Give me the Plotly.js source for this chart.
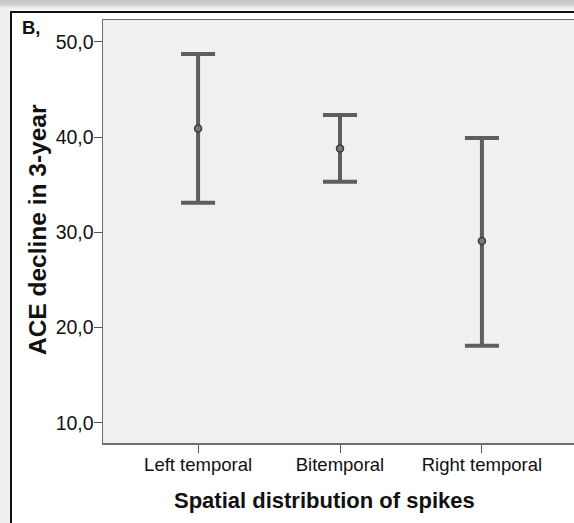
<!DOCTYPE html>
<html>
<head>
<meta charset="utf-8">
<script src="https://cdn.plot.ly/plotly-3.0.1.min.js"></script>
<style>
  html, body { margin:0; padding:0; width:574px; height:523px; overflow:hidden; background:#ffffff; }
  #topband { position:absolute; left:0; top:0; width:574px; height:10px;
    background:linear-gradient(to bottom, #c4c4c4 0px, #cfcfcf 5px, #e8e8e8 7px, #f4f4f4 10px); }
  #leftband { position:absolute; left:0; top:10px; width:11px; height:513px; background:#efefef; }
  #hline { position:absolute; left:11px; top:11px; width:563px; height:2px; background:#111; }
  #vline { position:absolute; left:10px; top:11px; width:2px; height:512px; background:#111; }
  #chart { position:absolute; left:0; top:0; width:620px; height:523px; }
</style>
</head>
<body>
<div id="topband"></div>
<div id="leftband"></div>
<div id="hline"></div>
<div id="vline"></div>
<div id="chart"></div>
<script>
// Data
var categories = ["Left temporal", "Bitemporal", "Right temporal"];
var means      = [40.9, 38.8, 29.1];
var upperBound = [48.7, 42.3, 39.9];
var lowerBound = [33.1, 35.3, 18.1];
var yTickVals  = [10, 20, 30, 40, 50];
var yTickText  = ["10,0", "20,0", "30,0", "40,0", "50,0"];
var xTitle = "Spatial distribution of spikes";
var yTitle = "ACE decline in 3-year";
var panelLabel = "B,";

var plus  = upperBound.map(function(u, i){ return u - means[i]; });
var minus = lowerBound.map(function(l, i){ return means[i] - l; });

var trace = {
  type: "scatter",
  mode: "markers",
  x: categories,
  y: means,
  marker: { symbol: "circle", size: 7, color: "#7a7a7a", line: { color: "#3c3c3c", width: 1.5 } },
  error_y: {
    type: "data", symmetric: false,
    array: plus, arrayminus: minus,
    color: "#5e5e5e", thickness: 4, width: 17
  },
  hoverinfo: "skip",
  showlegend: false
};

var fam = "Liberation Sans, Arial, sans-serif";
var layout = {
  width: 620, height: 523,
  margin: { l: 103, r: 43, t: 20, b: 80 },
  paper_bgcolor: "rgba(0,0,0,0)",
  plot_bgcolor: "#f0f0f0",
  font: { family: fam, color: "#111" },
  xaxis: {
    type: "category",
    range: [-0.67, 2.67],
    showline: true, linecolor: "#6e6e6e", linewidth: 1.5, mirror: true,
    ticks: "outside", ticklen: 8, tickcolor: "#555", tickwidth: 1,
    showgrid: false, zeroline: false,
    ticklabelstandoff: -4,
    tickfont: { size: 18.5, color: "#111" }
  },
  yaxis: {
    range: [7.9, 52.28],
    tickvals: yTickVals, ticktext: yTickText,
    showline: true, linecolor: "#6e6e6e", linewidth: 1.5, mirror: true,
    ticks: "outside", ticklen: 8, tickcolor: "#555", tickwidth: 1,
    showgrid: false, zeroline: false,
    ticklabelstandoff: -4,
    tickfont: { size: 19.5, color: "#111" }
  },
  annotations: [
    {
      xref: "paper", yref: "paper",
      x: -0.175, y: 1.0, xanchor: "left", yanchor: "bottom", yshift: -20,
      text: "<b>" + panelLabel + "</b>", showarrow: false,
      font: { size: 18.5, color: "#111", family: fam }
    },
    {
      xref: "paper", yref: "paper",
      x: 0.468, y: 0, xanchor: "center", yanchor: "middle", yshift: -57,
      text: "<b>" + xTitle + "</b>", showarrow: false,
      font: { size: 22, color: "#111", family: fam }
    },
    {
      xref: "paper", yref: "paper",
      x: 0, y: 0.5035, xanchor: "center", yanchor: "middle", xshift: -66,
      textangle: -90,
      text: "<b>" + yTitle + "</b>", showarrow: false,
      font: { size: 24.5, color: "#111", family: fam }
    }
  ]
};

Plotly.newPlot("chart", [trace], layout, { displayModeBar: false, staticPlot: true });
</script>
</body>
</html>
